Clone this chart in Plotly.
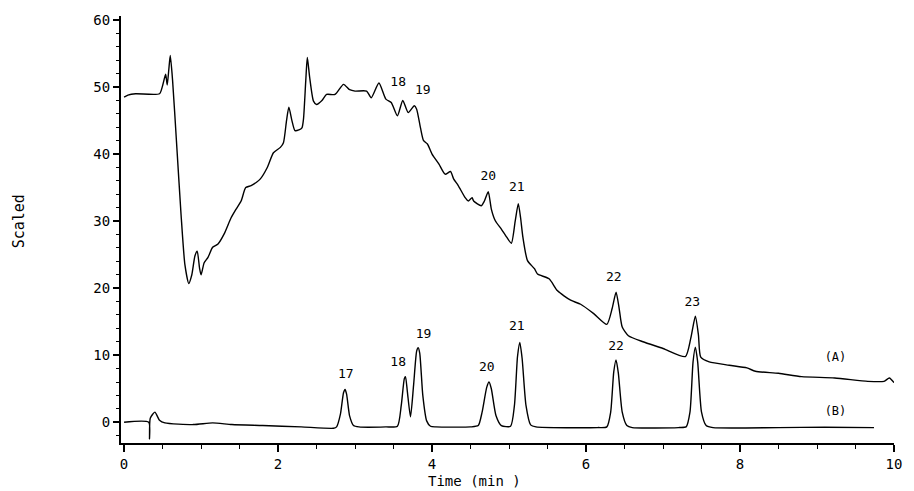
import plotly.graph_objects as go

# ---- data ----
a_time = [0.0, 0.05, 0.15, 0.46, 0.50, 0.54, 0.56, 0.58, 0.60, 0.63, 0.68, 0.74, 0.79, 0.84,
          0.88, 0.92, 0.95, 0.98, 1.00, 1.04, 1.09, 1.15, 1.22, 1.30, 1.39, 1.45, 1.52, 1.58,
          1.65, 1.72, 1.77, 1.86, 1.94, 2.03, 2.07, 2.11, 2.14, 2.18, 2.22, 2.27, 2.31, 2.33,
          2.36, 2.38, 2.41, 2.46, 2.50, 2.57, 2.63, 2.74, 2.85, 2.93, 3.00, 3.15, 3.21, 3.31,
          3.40, 3.47, 3.55, 3.62, 3.69, 3.77, 3.80, 3.85, 3.89, 3.94, 4.00, 4.09, 4.17, 4.24,
          4.28, 4.34, 4.43, 4.47, 4.52, 4.54, 4.64, 4.68, 4.73, 4.77, 4.82, 4.90, 4.97, 5.03,
          5.08, 5.12, 5.15, 5.18, 5.24, 5.33, 5.37, 5.52, 5.63, 5.80, 5.93, 6.10, 6.27, 6.34,
          6.39, 6.43, 6.47, 6.55, 6.74, 7.00, 7.29, 7.36, 7.42, 7.46, 7.49, 7.60, 7.86, 8.09,
          8.20, 8.50, 8.80, 9.23, 9.66, 9.87, 9.94, 10.0]
a_signal = [48.5, 48.8, 49.0, 49.0, 50.2, 51.9, 50.3, 52.5, 54.7, 51.0, 42.0, 31.0, 23.5, 20.7,
            22.0, 24.8, 25.5, 23.0, 22.0, 23.8, 24.6, 26.1, 26.6, 28.1, 30.5, 31.7, 33.0, 35.0,
            35.3, 35.8, 36.3, 38.0, 40.2, 41.0, 41.7, 45.0, 47.0, 45.0, 43.5, 43.6, 43.9, 45.2,
            51.0, 54.4, 51.5, 47.9, 47.4, 48.0, 48.9, 48.9, 50.4, 49.6, 49.4, 49.4, 48.4, 50.6,
            48.2, 47.7, 45.7, 48.0, 46.2, 47.2, 46.7, 43.9, 42.0, 41.5, 40.0, 38.5, 37.0, 37.4,
            36.3, 35.3, 33.5, 33.0, 33.5, 33.0, 32.3, 33.0, 34.4, 31.8, 30.1, 28.8, 27.6, 26.7,
            30.0, 32.6, 30.5, 27.6, 24.1, 22.9, 22.1, 21.4, 19.6, 18.2, 17.6, 16.2, 14.6, 17.0,
            19.4, 17.0, 14.2, 12.9, 12.0, 11.0, 9.8, 12.5, 15.8, 13.0, 9.7, 9.0, 8.5, 8.1,
            7.6, 7.3, 6.8, 6.6, 6.1, 6.1, 6.6, 5.9]

b_time = [0.0, 0.32, 0.33, 0.34, 0.40, 0.46, 0.53, 0.90, 1.15, 1.40, 1.80, 2.30, 2.72,
          2.76, 2.81, 2.85, 2.87, 2.89, 2.93, 2.98, 3.05, 3.40,
          3.55, 3.60, 3.64, 3.655, 3.68, 3.72, 3.76, 3.80, 3.82, 3.84, 3.88, 3.93, 3.98, 4.05, 4.50,
          4.60, 4.65, 4.71, 4.74, 4.77, 4.83, 4.90,
          5.02, 5.07, 5.11, 5.14, 5.17, 5.22, 5.28, 5.35, 6.15,
          6.27, 6.32, 6.36, 6.39, 6.42, 6.47, 6.53, 6.60, 7.20,
          7.30, 7.35, 7.39, 7.42, 7.45, 7.50, 7.56, 7.65, 8.50, 9.10, 9.74]
b_signal = [0.0, 0.0, -2.5, 0.6, 1.5, 0.3, -0.1, -0.35, -0.1, -0.35, -0.5, -0.7, -0.9,
            -0.7, 1.2, 4.4, 4.9, 4.2, 0.9, -0.5, -0.7, -0.7,
            -0.6, 2.5, 6.5, 6.8, 4.5, 0.8, 5.5, 10.6, 11.1, 10.3, 4.0, 0.2, -0.6, -0.7, -0.7,
            -0.5, 1.5, 5.2, 6.0, 5.0, 1.0, -0.5,
            -0.6, 2.5, 9.8, 11.9, 9.5, 2.5, -0.4, -0.7, -0.8,
            -0.7, 1.5, 7.5, 9.3, 7.3, 1.5, -0.5, -0.8, -0.8,
            -0.7, 1.5, 9.0, 11.2, 9.0, 1.5, -0.5, -0.8, -0.8, -0.75, -0.8]

a_peak_labels = ["18", "19", "20", "21", "22", "23"]
a_label_x = [3.56, 3.88, 4.73, 5.10, 6.36, 7.38]
a_label_y = [50.6, 49.4, 36.6, 35.0, 21.6, 17.8]

b_peak_labels = ["17", "18", "19", "20", "21", "22"]
b_label_x = [2.88, 3.56, 3.89, 4.71, 5.10, 6.39]
b_label_y = [7.1, 8.9, 13.0, 8.2, 14.3, 11.2]

trace_names = ["(A)", "(B)"]
trace_label_x = [9.24, 9.24]
trace_label_y = [9.6, 1.5]

x_ticks = [0, 2, 4, 6, 8, 10]
x_ticktext = ["0", "2", "4", "6", "8", "10"]
y_ticks = [0, 10, 20, 30, 40, 50, 60]
y_ticktext = ["0", "10", "20", "30", "40", "50", "60"]

FONT = "DejaVu Sans Mono"
W, H = 914, 491
L, R, T, B = 121, 14, 13, 48

fig = go.Figure()
fig.add_trace(go.Scatter(x=a_time, y=a_signal, mode="lines", name="(A)",
                         line=dict(color="black", width=1.4, shape="spline", smoothing=0.6),
                         showlegend=False))
fig.add_trace(go.Scatter(x=b_time, y=b_signal, mode="lines", name="(B)",
                         line=dict(color="black", width=1.4, shape="spline", smoothing=0.6),
                         showlegend=False))

fig.add_trace(go.Scatter(x=a_label_x, y=a_label_y, mode="text", text=a_peak_labels,
                         textfont=dict(family=FONT, size=13, color="black"), showlegend=False,
                         hoverinfo="skip"))
fig.add_trace(go.Scatter(x=b_label_x, y=b_label_y, mode="text", text=b_peak_labels,
                         textfont=dict(family=FONT, size=13, color="black"), showlegend=False,
                         hoverinfo="skip"))
fig.add_trace(go.Scatter(x=trace_label_x, y=trace_label_y, mode="text", text=trace_names,
                         textfont=dict(family=FONT, size=12, color="black"), showlegend=False,
                         hoverinfo="skip"))


def px_to_paper(px, py):
    return (px - L) / (W - L - R), 1 - (py - T) / (H - T - B)


xt_x, xt_y = px_to_paper(477, 481)
yt_x, yt_y = px_to_paper(18, 220)

fig.update_layout(
    width=W, height=H,
    margin=dict(l=L, r=R, t=T, b=B),
    paper_bgcolor="white", plot_bgcolor="white",
    font=dict(family=FONT, size=14, color="black"),
    xaxis=dict(range=[-0.04, 10.0], tickvals=x_ticks, ticktext=x_ticktext,
               showgrid=False, zeroline=False, showline=True, linecolor="black", linewidth=2,
               ticks="outside", ticklen=7, tickwidth=1.5, tickcolor="black",
               minor=dict(dtick=0.5, ticks="outside", ticklen=4, tickwidth=1.2, tickcolor="black"),
               tickfont=dict(family=FONT, size=14)),
    yaxis=dict(range=[-3.1, 60.6], tickvals=y_ticks, ticktext=y_ticktext,
               showgrid=False, zeroline=False, showline=True, linecolor="black", linewidth=2,
               ticks="outside", ticklen=6, tickwidth=1.5, tickcolor="black",
               minor=dict(dtick=2, ticks="outside", ticklen=3, tickwidth=1.2, tickcolor="black"),
               tickfont=dict(family=FONT, size=14)),
    annotations=[
        dict(text="Time (min )", x=xt_x, y=xt_y, xref="paper", yref="paper", showarrow=False,
             xanchor="center", yanchor="middle", font=dict(family=FONT, size=14)),
        dict(text="Scaled", x=yt_x, y=yt_y, xref="paper", yref="paper", showarrow=False,
             xanchor="center", yanchor="middle", textangle=-90, font=dict(family=FONT, size=15)),
    ],
)

fig.write_html("out.html", config={"displayModeBar": False},
               post_script="document.body.style.margin='0px';")
